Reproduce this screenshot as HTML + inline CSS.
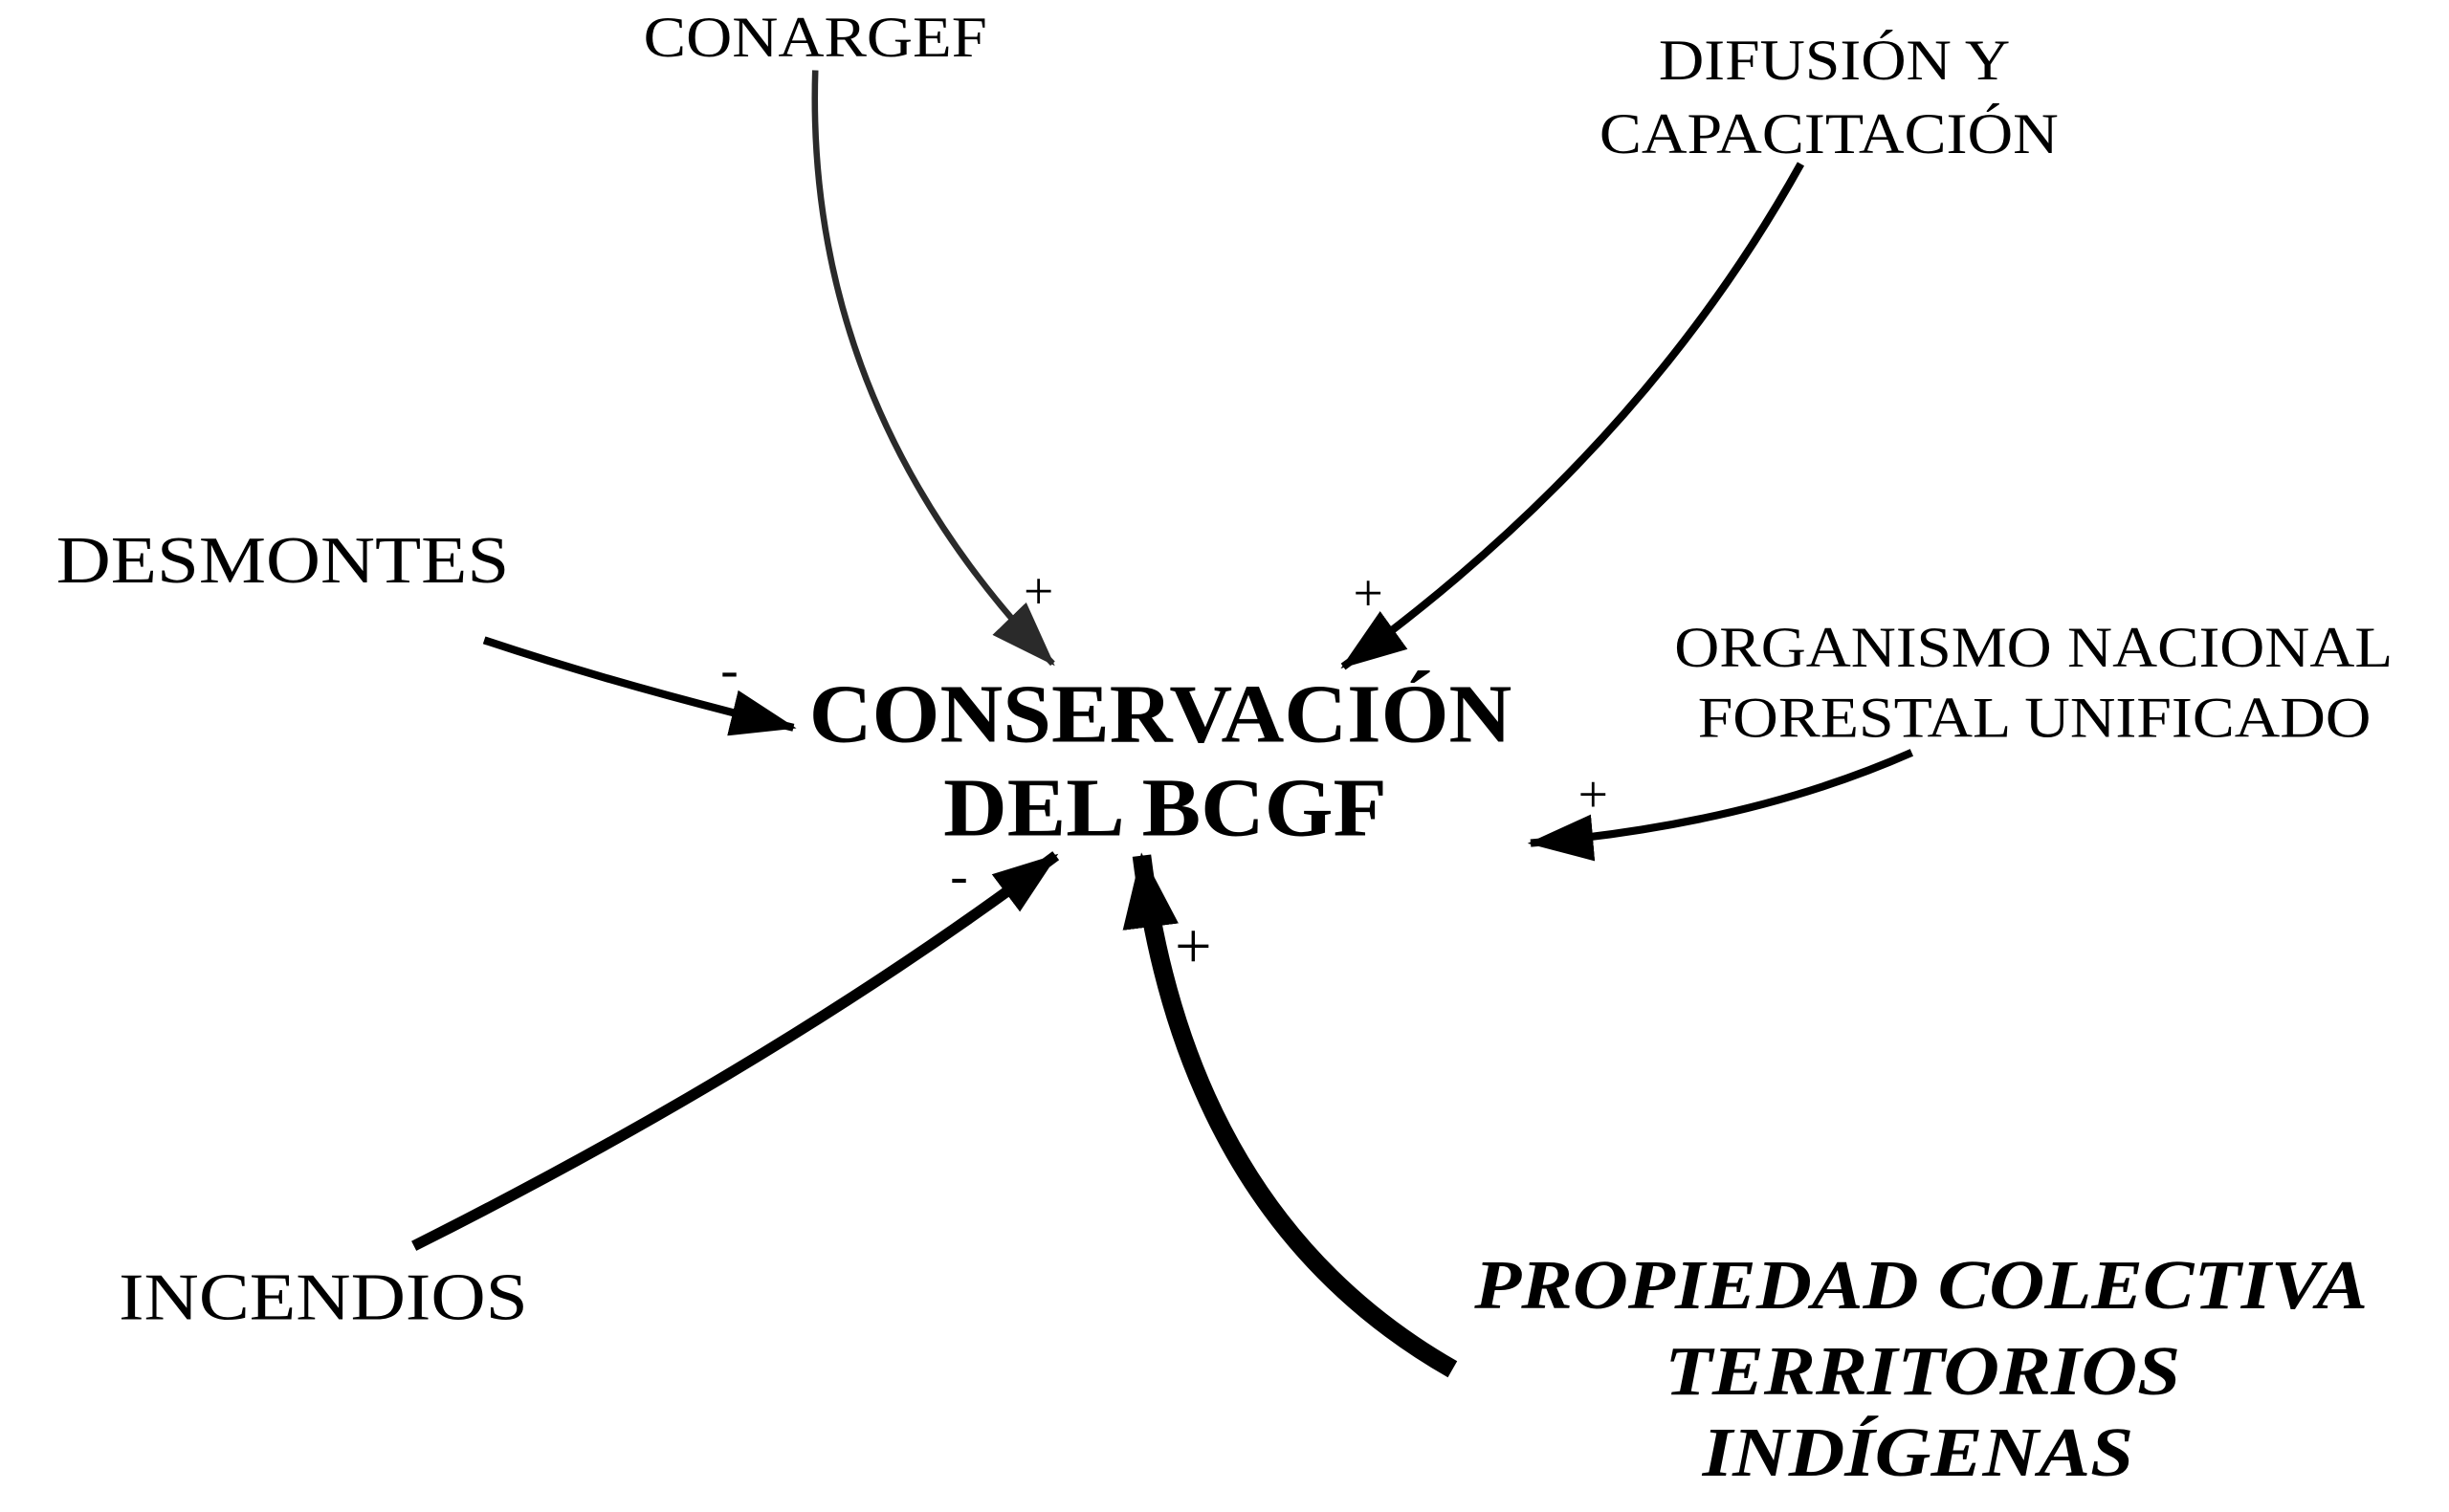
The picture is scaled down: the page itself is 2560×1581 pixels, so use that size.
<!DOCTYPE html>
<html><head><meta charset="utf-8"><style>
html,body{margin:0;padding:0;background:#fff;}
svg{display:block;}
text{font-family:"Liberation Serif",serif;fill:#000;}
</style></head><body>
<svg width="2560" height="1581" viewBox="0 0 1568 968.4" preserveAspectRatio="none" xmlns="http://www.w3.org/2000/svg">
<defs>
<marker id="a1" markerUnits="userSpaceOnUse" markerWidth="44" markerHeight="34" refX="40" refY="15" orient="auto"><path d="M0,0 L42,15 L0,30 Z" fill="#000"/></marker>
<marker id="a2" markerUnits="userSpaceOnUse" markerWidth="44" markerHeight="34" refX="40" refY="15" orient="auto"><path d="M0,0 L42,15 L0,30 Z" fill="#2a2a2a"/></marker>
<marker id="a3" markerUnits="userSpaceOnUse" markerWidth="50" markerHeight="40" refX="46" refY="18" orient="auto"><path d="M0,0 L48,18 L0,36 Z" fill="#000"/></marker>
</defs>
<g font-size="37" lengthAdjust="spacingAndGlyphs">
<text x="412" y="36" textLength="220" lengthAdjust="spacingAndGlyphs">CONARGEF</text>
<text x="1062" y="51" textLength="225" lengthAdjust="spacingAndGlyphs">DIFUSIÓN Y</text>
<text x="1024" y="98" textLength="294" lengthAdjust="spacingAndGlyphs">CAPACITACIÓN</text>
<text x="1072" y="427" textLength="460" lengthAdjust="spacingAndGlyphs">ORGANISMO NACIONAL</text>
<text x="1087" y="472" textLength="431" lengthAdjust="spacingAndGlyphs">FORESTAL UNIFICADO</text>
</g>
<g font-size="43">
<text x="36" y="373" textLength="290" lengthAdjust="spacingAndGlyphs">DESMONTES</text>
<text x="76" y="845" textLength="262" lengthAdjust="spacingAndGlyphs">INCENDIOS</text>
</g>
<g font-size="53" font-weight="bold">
<text x="518" y="475" textLength="450" lengthAdjust="spacingAndGlyphs">CONSERVACIÓN</text>
<text x="604" y="535" textLength="284" lengthAdjust="spacingAndGlyphs">DEL BCGF</text>
</g>
<g font-size="45" font-weight="bold" font-style="italic">
<text x="944" y="838" textLength="572" lengthAdjust="spacingAndGlyphs">PROPIEDAD COLECTIVA</text>
<text x="1066" y="893" textLength="330" lengthAdjust="spacingAndGlyphs">TERRITORIOS</text>
<text x="1090" y="945" textLength="276" lengthAdjust="spacingAndGlyphs">INDÍGENAS</text>
</g>
<g fill="none" stroke-linecap="butt">
<path d="M522,45 Q515,260 674,425" stroke="#2a2a2a" stroke-width="4" marker-end="url(#a2)"/>
<path d="M1153,105 Q1050,290 860,427" stroke="#000" stroke-width="5" marker-end="url(#a1)"/>
<path d="M310,410 Q400,440 508,466" stroke="#000" stroke-width="5" marker-end="url(#a1)"/>
<path d="M1224,482 Q1120,528 980,540" stroke="#000" stroke-width="5" marker-end="url(#a1)"/>
<path d="M265,798 Q500,680 676,548" stroke="#000" stroke-width="7" marker-end="url(#a1)"/>
<path d="M930,877 Q760,780 731,548" stroke="#000" stroke-width="12" marker-end="url(#a3)"/>
</g>
<g font-size="34" text-anchor="middle">
<text x="665" y="390">+</text>
<text x="876" y="391">+</text>
<text x="467" y="440">-</text>
<text x="1020" y="520">+</text>
<text x="614" y="572">-</text>
<text x="764" y="620" font-size="42">+</text>
</g>
</svg>
</body></html>
